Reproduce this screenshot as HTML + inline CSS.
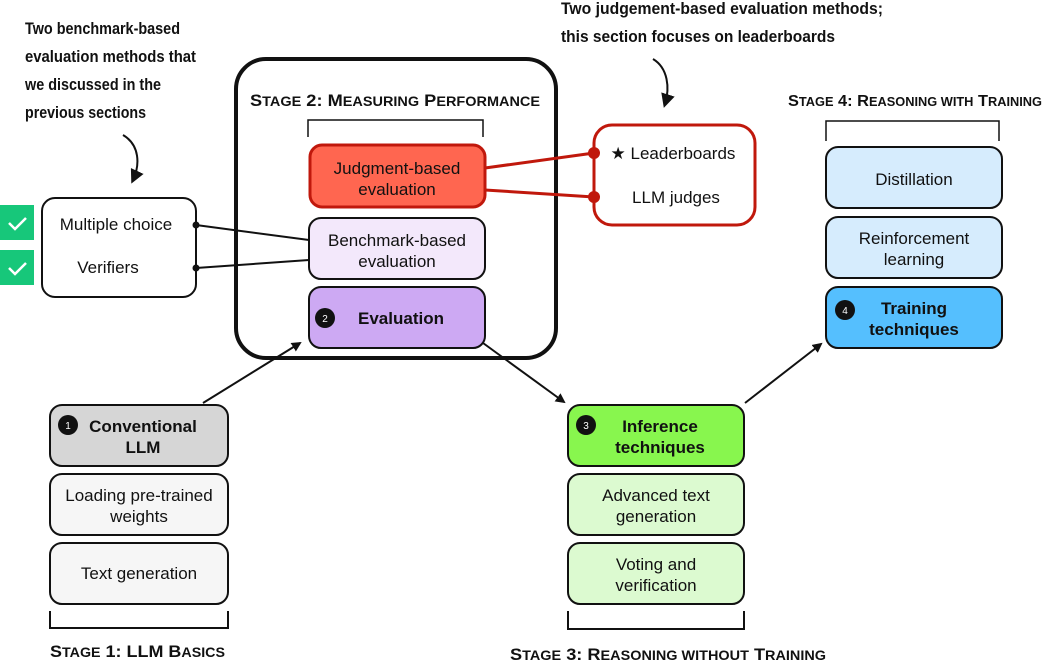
<!DOCTYPE html>
<html><head><meta charset="utf-8"><style>
html,body{margin:0;padding:0;background:#fff}
svg{display:block}
text{font-family:"Liberation Sans",sans-serif;fill:#111}
.a{font-weight:bold;font-size:16.5px}
.t{font-size:17px;text-anchor:middle}
.b{font-size:17px;text-anchor:middle;font-weight:bold}
.s{font-weight:bold}
.box{stroke:#111;stroke-width:2}
</style></head><body>
<svg width="1042" height="661" viewBox="0 0 1042 661" xmlns="http://www.w3.org/2000/svg">
<defs>
<marker id="ar" markerWidth="10" markerHeight="10" refX="8" refY="5" orient="auto" markerUnits="userSpaceOnUse"><path d="M0,0 L10,5 L0,10 z" fill="#111"/></marker>
<marker id="ar2" markerWidth="14" markerHeight="14" refX="10" refY="7" orient="auto" markerUnits="userSpaceOnUse"><path d="M0,0 L14,7 L0,14 z" fill="#111"/></marker>
</defs>
<!-- annotations -->
<text class="a" x="25" y="34" textLength="155" lengthAdjust="spacingAndGlyphs">Two benchmark-based</text>
<text class="a" x="25" y="62" textLength="171" lengthAdjust="spacingAndGlyphs">evaluation methods that</text>
<text class="a" x="25" y="90" textLength="136" lengthAdjust="spacingAndGlyphs">we discussed in the</text>
<text class="a" x="25" y="118" textLength="121" lengthAdjust="spacingAndGlyphs">previous sections</text>
<path d="M123,135 C140,145 140,165 133,180" fill="none" stroke="#111" stroke-width="2" marker-end="url(#ar2)"/>
<text class="a" x="561" y="14" textLength="322" lengthAdjust="spacingAndGlyphs">Two judgement-based evaluation methods;</text>
<text class="a" x="561" y="42" textLength="274" lengthAdjust="spacingAndGlyphs">this section focuses on leaderboards</text>
<path d="M653,59 C668,68 670,88 665,104" fill="none" stroke="#111" stroke-width="2" marker-end="url(#ar2)"/>

<!-- checks -->
<rect x="0" y="205" width="34" height="35" fill="#17c77a"/>
<rect x="0" y="250" width="34" height="35" fill="#17c77a"/>
<path d="M9,223 l6,6 l11,-11" fill="none" stroke="#fff" stroke-width="2.5"/>
<path d="M9,268 l6,6 l11,-11" fill="none" stroke="#fff" stroke-width="2.5"/>
<rect x="42" y="198" width="154" height="99" rx="13" fill="#fff" class="box"/>
<text class="t" x="116" y="230">Multiple choice</text>
<text class="t" x="108" y="273">Verifiers</text>

<!-- stage 2 -->
<rect x="236" y="59" width="320" height="299" rx="30" fill="none" stroke="#111" stroke-width="4"/>
<text class="s" x="250" y="106" textLength="290" lengthAdjust="spacingAndGlyphs"><tspan font-size="17">S</tspan><tspan font-size="13.5">TAGE</tspan><tspan font-size="17"> 2: M</tspan><tspan font-size="13.5">EASURING</tspan><tspan font-size="17"> P</tspan><tspan font-size="13.5">ERFORMANCE</tspan></text>
<path d="M308,137 V120 H483 V137" fill="none" stroke="#111" stroke-width="1.5"/>
<line x1="196" y1="225" x2="309" y2="240" stroke="#111" stroke-width="2"/>
<line x1="196" y1="268" x2="309" y2="260" stroke="#111" stroke-width="2"/>
<circle cx="196" cy="225" r="3.5" fill="#111"/><circle cx="196" cy="268" r="3.5" fill="#111"/>
<rect x="310" y="145" width="175" height="62" rx="12" fill="#ff6650" stroke="#c0180c" stroke-width="3"/>
<text class="t" x="397" y="174">Judgment-based</text>
<text class="t" x="397" y="195">evaluation</text>
<rect x="309" y="218" width="176" height="61" rx="12" fill="#f3e8fb" class="box"/>
<text class="t" x="397" y="246">Benchmark-based</text>
<text class="t" x="397" y="267">evaluation</text>
<rect x="309" y="287" width="176" height="61" rx="12" fill="#cda9f3" class="box"/>
<circle cx="325" cy="318" r="10" fill="#111"/>
<text x="325" y="322" font-size="10" text-anchor="middle" style="fill:#fff">2</text>
<text class="b" x="401" y="324">Evaluation</text>

<!-- leaderboards -->
<line x1="485" y1="168" x2="594" y2="153" stroke="#c0180c" stroke-width="3"/>
<line x1="485" y1="190" x2="594" y2="197" stroke="#c0180c" stroke-width="3"/>
<rect x="594" y="125" width="161" height="100" rx="18" fill="#fff" stroke="#c0180c" stroke-width="3"/>
<circle cx="594" cy="153" r="6" fill="#c0180c"/><circle cx="594" cy="197" r="6" fill="#c0180c"/>
<text class="t" x="673" y="159">★ Leaderboards</text>
<text class="t" x="676" y="203">LLM judges</text>

<!-- stage 4 -->
<text class="s" x="788" y="106" textLength="254" lengthAdjust="spacingAndGlyphs"><tspan font-size="16">S</tspan><tspan font-size="12.5">TAGE</tspan><tspan font-size="16"> 4: R</tspan><tspan font-size="12.5">EASONING WITH</tspan><tspan font-size="16"> T</tspan><tspan font-size="12.5">RAINING</tspan></text>
<path d="M826,141 V121 H999 V141" fill="none" stroke="#111" stroke-width="1.5"/>
<rect x="826" y="147" width="176" height="61" rx="12" fill="#d6ecfd" class="box"/>
<text class="t" x="914" y="185">Distillation</text>
<rect x="826" y="217" width="176" height="61" rx="12" fill="#d6ecfd" class="box"/>
<text class="t" x="914" y="244">Reinforcement</text>
<text class="t" x="914" y="265">learning</text>
<rect x="826" y="287" width="176" height="61" rx="12" fill="#55bffe" class="box"/>
<circle cx="845" cy="310" r="10" fill="#111"/>
<text x="845" y="314" font-size="10" text-anchor="middle" style="fill:#fff">4</text>
<text class="b" x="914" y="314">Training</text>
<text class="b" x="914" y="335">techniques</text>

<!-- stage 1 -->
<rect x="50" y="405" width="178" height="61" rx="12" fill="#d6d6d6" class="box"/>
<circle cx="68" cy="425" r="10" fill="#111"/>
<text x="68" y="429" font-size="10" text-anchor="middle" style="fill:#fff">1</text>
<text class="b" x="143" y="432">Conventional</text>
<text class="b" x="143" y="453">LLM</text>
<rect x="50" y="474" width="178" height="61" rx="12" fill="#f6f6f6" class="box"/>
<text class="t" x="139" y="501">Loading pre-trained</text>
<text class="t" x="139" y="522">weights</text>
<rect x="50" y="543" width="178" height="61" rx="12" fill="#f6f6f6" class="box"/>
<text class="t" x="139" y="579">Text generation</text>
<path d="M50,611 V628 H228 V611" fill="none" stroke="#111" stroke-width="2"/>
<text class="s" x="50" y="657" textLength="175" lengthAdjust="spacingAndGlyphs"><tspan font-size="17">S</tspan><tspan font-size="13.5">TAGE</tspan><tspan font-size="17"> 1: LLM B</tspan><tspan font-size="13.5">ASICS</tspan></text>

<!-- stage 3 -->
<rect x="568" y="405" width="176" height="61" rx="12" fill="#88f64e" class="box"/>
<circle cx="586" cy="425" r="10" fill="#111"/>
<text x="586" y="429" font-size="10" text-anchor="middle" style="fill:#fff">3</text>
<text class="b" x="660" y="432">Inference</text>
<text class="b" x="660" y="453">techniques</text>
<rect x="568" y="474" width="176" height="61" rx="12" fill="#dcfad0" class="box"/>
<text class="t" x="656" y="501">Advanced text</text>
<text class="t" x="656" y="522">generation</text>
<rect x="568" y="543" width="176" height="61" rx="12" fill="#dcfad0" class="box"/>
<text class="t" x="656" y="570">Voting and</text>
<text class="t" x="656" y="591">verification</text>
<path d="M568,611 V629 H744 V611" fill="none" stroke="#111" stroke-width="2"/>
<text class="s" x="510" y="660" textLength="316" lengthAdjust="spacingAndGlyphs"><tspan font-size="17">S</tspan><tspan font-size="13.5">TAGE</tspan><tspan font-size="17"> 3: R</tspan><tspan font-size="13.5">EASONING WITHOUT</tspan><tspan font-size="17"> T</tspan><tspan font-size="13.5">RAINING</tspan></text>

<!-- arrows -->
<line x1="203" y1="403" x2="300" y2="343" stroke="#111" stroke-width="2" marker-end="url(#ar)"/>
<line x1="483" y1="343" x2="564" y2="402" stroke="#111" stroke-width="2" marker-end="url(#ar)"/>
<line x1="745" y1="403" x2="821" y2="344" stroke="#111" stroke-width="2" marker-end="url(#ar)"/>
</svg>
</body></html>
